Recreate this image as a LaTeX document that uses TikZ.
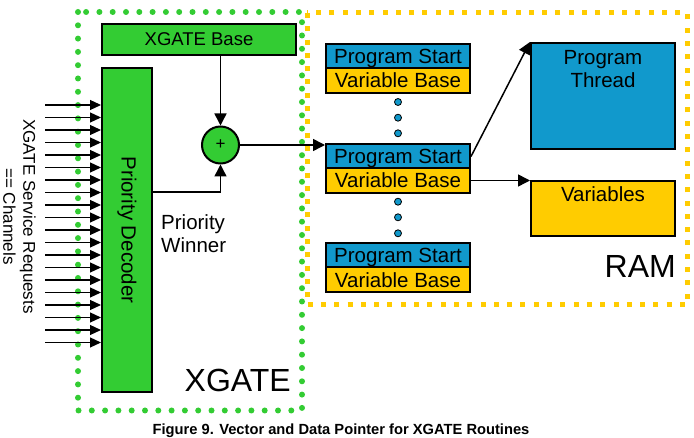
\documentclass[tikz,border=0pt]{standalone}
\usepackage{fontspec}
\setmainfont{Liberation Sans}
\usetikzlibrary{arrows.meta}
\definecolor{xgreen}{RGB}{51,204,51}
\definecolor{xblue}{RGB}{17,153,204}
\definecolor{xyellow}{RGB}{255,204,0}
\newcommand{\fsz}[2]{\fontsize{#1pt}{#2pt}\selectfont}

\begin{document}
\begin{tikzpicture}[x=1pt,y=-1pt,
  box/.style={draw=black,line width=2pt,inner sep=0pt},
  txt/.style={inner sep=0pt,font=\fsz{20.5}{23.5}},
  link/.style={line width=1.5pt,-{Triangle[length=12pt,width=12pt]}},
  inlink/.style={line width=1.2pt,-{Triangle[length=11pt,width=10pt]}}]
  \useasboundingbox (0,0) rectangle (694,438);
  % borders of XGATE and RAM
  \draw[xyellow,line width=5pt,dash pattern=on 5pt off 8.3pt] (307,13) rectangle (687,305);
  \draw[xgreen,line width=6pt,line cap=round,dash pattern=on 0pt off 13.3pt] (78,12) rectangle (302,410.5);
  % XGATE side
  \node[box,fill=xgreen,minimum width=194pt,minimum height=31pt,font=\fsz{18.5}{20}] (xbase) at (199,39.5) {XGATE Base};
  \node[box,fill=xgreen,minimum width=50pt,minimum height=324pt] (dec) at (127,230) {};
  \node[txt,rotate=-90] (dectxt) at (dec.center) {Priority Decoder};
  \node[box,circle,fill=xgreen,minimum size=37pt,font=\fsz{17}{17}] (plus) at (220.5,145) {+};
  \node[txt,align=left,anchor=north west] (winner) at (161,214) {Priority\\Winner};
  \node[inner sep=0pt,anchor=base east,font=\fsz{32}{32}] (xgate) at (291,392) {XGATE};
  % service requests, 20 channels
  \node[inner sep=0pt,rotate=-90,align=center,font=\fsz{17}{20}] (reqtxt) at (19.5,216.5) {XGATE Service Requests\\== Channels};
  \foreach \k in {0,...,19} {
    \coordinate (req\k) at (45,105+12.5*\k);
    \draw[inlink] (req\k) -- (req\k -| dec.west);
  }
  \coordinate (winout) at (152,192);
  \draw[link] (winout) -| (plus.south);
  \draw[link] (xbase.south -| plus) -- (plus.north);
  % vector table in RAM
  \foreach \i/\y in {1/43,2/143,3/242.3} {
    \node[box,fill=xblue,minimum width=144pt,minimum height=25pt,text depth=0pt,font=\fsz{20.5}{23.5}] (ps\i) at (398,\y+13.5) {Program Start};
    \node[box,fill=xyellow,minimum width=144pt,minimum height=25pt,text depth=0pt,font=\fsz{20.5}{23.5}] (vb\i) at (398,\y+37.5) {Variable Base};
  }
  \foreach \y [count=\n] in {102,117.7,133.3,201.7,217.3,233.3}
    \node[circle,draw,fill=xblue,line width=0.8pt,minimum size=7pt,inner sep=0pt] (dot\n) at (398,\y) {};
  \node[box,fill=xblue,minimum width=144pt,minimum height=106pt] (thread) at (603,96) {};
  \node[txt,align=center,anchor=north] (threadtxt) at (603,50) {Program\\Thread};
  \node[box,fill=xyellow,minimum width=144pt,minimum height=55pt] (var) at (603,208.5) {};
  \node[txt,anchor=north] (vartxt) at (603,186.5) {Variables};
  \node[inner sep=0pt,anchor=base east,font=\fsz{32}{32}] (ram) at (676,277.5) {RAM};
  \draw[link] (plus.east) -- (plus.east -| ps2.west);
  \draw[link] (ps2.east) -- (thread.north west);
  \draw[link] (vb2.east) -- (vb2.east -| var.west);
  % caption
  \node[inner sep=0pt,font=\fsz{14.7}{14.7}\bfseries] (caption) at (341,431) {Figure 9. Vector and Data Pointer for XGATE Routines};
\end{tikzpicture}
\end{document}
